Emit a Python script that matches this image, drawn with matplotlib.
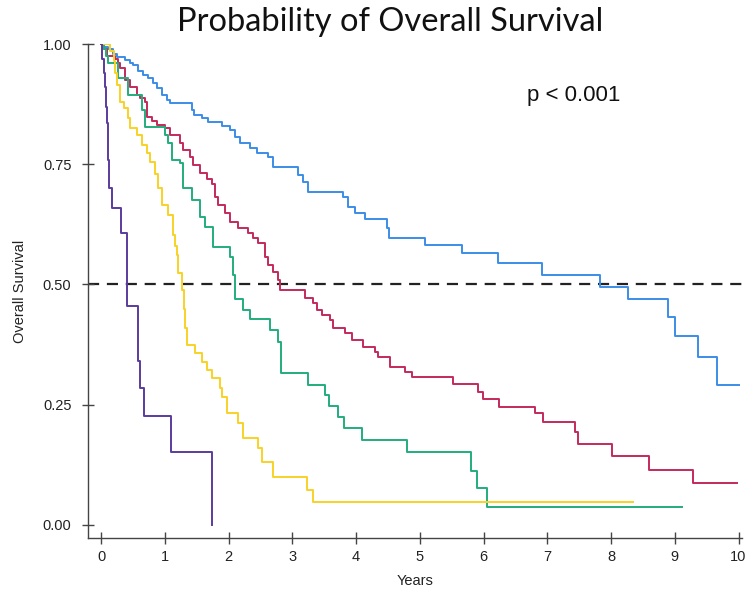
import numpy as np
import matplotlib
matplotlib.use("Agg")
import matplotlib.pyplot as plt

# survival step data: (time in years, survival after drop)
blue_t = [0.05, 0.11, 0.19, 0.25, 0.38, 0.45, 0.50, 0.58, 0.66, 0.74, 0.82, 0.88, 0.96, 1.03, 1.08,
          1.43, 1.46, 1.58, 1.68, 1.90, 2.02, 2.10, 2.18, 2.34, 2.45, 2.62, 2.70, 3.09, 3.17, 3.24,
          3.79, 3.87, 3.98, 4.14, 4.48, 4.51, 5.08, 5.66, 6.22, 6.91, 7.82, 8.26, 8.89, 9.00, 9.36, 9.66]
blue_s = [0.995, 0.99, 0.98, 0.973, 0.967, 0.96, 0.956, 0.945, 0.936, 0.93, 0.919, 0.909, 0.894, 0.884, 0.877,
          0.863, 0.852, 0.846, 0.838, 0.83, 0.821, 0.807, 0.794, 0.784, 0.773, 0.765, 0.744, 0.728, 0.713, 0.692,
          0.682, 0.661, 0.649, 0.636, 0.617, 0.597, 0.582, 0.565, 0.545, 0.52, 0.495, 0.47, 0.432, 0.393, 0.349, 0.291]
blue_end = 10.0

red_t = [0.04, 0.10, 0.22, 0.27, 0.30, 0.38, 0.45, 0.56, 0.61, 0.69, 0.72, 0.80, 0.88, 1.00, 1.08,
         1.24, 1.29, 1.39, 1.44, 1.55, 1.66, 1.74, 1.79, 1.83, 1.94, 2.02, 2.15, 2.30, 2.38, 2.46,
         2.57, 2.62, 2.70, 2.77, 2.81, 3.20, 3.32, 3.39, 3.46, 3.59, 3.64, 3.82, 3.93, 4.11, 4.29,
         4.34, 4.53, 4.76, 4.87, 5.52, 5.91, 5.99, 6.25, 6.80, 6.93, 7.43, 7.48, 8.01, 8.60, 9.28]
red_s = [0.99, 0.975, 0.97, 0.96, 0.95, 0.925, 0.91, 0.894, 0.888, 0.88, 0.848, 0.84, 0.832, 0.825, 0.81,
         0.794, 0.78, 0.765, 0.748, 0.732, 0.72, 0.71, 0.682, 0.665, 0.649, 0.63, 0.617, 0.607, 0.597, 0.586,
         0.557, 0.54, 0.526, 0.509, 0.489, 0.472, 0.461, 0.447, 0.437, 0.426, 0.41, 0.40, 0.385, 0.37, 0.36,
         0.349, 0.328, 0.318, 0.308, 0.293, 0.277, 0.262, 0.245, 0.233, 0.214, 0.193, 0.168, 0.143, 0.114, 0.087]
red_end = 9.98

green_t = [0.05, 0.08, 0.11, 0.27, 0.42, 0.64, 0.69, 1.00, 1.05, 1.11, 1.24, 1.29, 1.43, 1.55, 1.63,
           1.76, 2.02, 2.07, 2.10, 2.23, 2.34, 2.65, 2.77, 2.82, 3.24, 3.51, 3.57, 3.71, 3.81, 4.09,
           4.80, 5.80, 5.89, 6.05]
green_s = [0.99, 0.975, 0.96, 0.93, 0.894, 0.863, 0.827, 0.81, 0.794, 0.759, 0.753, 0.70, 0.676, 0.64, 0.62,
           0.578, 0.557, 0.52, 0.47, 0.447, 0.428, 0.405, 0.38, 0.316, 0.29, 0.27, 0.247, 0.225, 0.202, 0.177,
           0.152, 0.112, 0.077, 0.037]
green_end = 9.12

yellow_t = [0.14, 0.20, 0.22, 0.25, 0.30, 0.36, 0.42, 0.45, 0.56, 0.64, 0.72, 0.77, 0.85, 0.89, 0.96,
            1.05, 1.13, 1.16, 1.19, 1.21, 1.27, 1.30, 1.32, 1.35, 1.47, 1.58, 1.66, 1.74, 1.87, 1.90,
            1.97, 2.15, 2.23, 2.46, 2.52, 2.70, 3.23, 3.32]
yellow_s = [0.985, 0.965, 0.94, 0.915, 0.88, 0.867, 0.846, 0.825, 0.81, 0.79, 0.773, 0.755, 0.73, 0.70, 0.665,
            0.645, 0.603, 0.58, 0.561, 0.524, 0.489, 0.45, 0.41, 0.374, 0.357, 0.339, 0.322, 0.305, 0.285, 0.266,
            0.233, 0.212, 0.181, 0.16, 0.13, 0.10, 0.073, 0.048]
yellow_end = 8.35

purple_t = [0.02, 0.04, 0.06, 0.07, 0.09, 0.11, 0.125, 0.17, 0.31, 0.41, 0.58, 0.61, 0.67, 1.10, 1.74]
purple_s = [0.97, 0.94, 0.91, 0.87, 0.835, 0.76, 0.70, 0.66, 0.607, 0.455, 0.34, 0.285, 0.227, 0.152, 0.0]
purple_end = 1.74

curves = [
    (blue_t, blue_s, blue_end, "#3c8de8"),
    (red_t, red_s, red_end, "#c42a5c"),
    (green_t, green_s, green_end, "#23ad7c"),
    (yellow_t, yellow_s, yellow_end, "#f7d226"),
    (purple_t, purple_s, purple_end, "#5b3b9e"),
]

plt.rcParams['font.family'] = ['Liberation Sans', 'DejaVu Sans']

fig = plt.figure(figsize=(7.53, 5.89), dpi=100)
ax = fig.add_axes([0.117, 0.087, 0.868, 0.838])

ax.axhline(0.5, color="#222222", lw=1.6, ls=(0, (5, 3.5)), zorder=1)

for t, s, end, col in curves:
    x = np.r_[0, t, end]
    y = np.r_[1.0, s, s[-1]]
    ax.step(x, y, where="post", color=col, lw=1.4, zorder=2)

ax.set_xlim(-0.204, 10.05)
ax.set_ylim(-0.027, 1.0)
ax.set_xticks(range(0, 11))
ax.set_yticks([0, 0.25, 0.5, 0.75, 1.0])
ax.set_yticklabels(["0.00", "0.25", "0.50", "0.75", "1.00"])
ax.tick_params(direction="inout", length=8, width=1, color="#444444", labelsize=10.5, labelcolor="#222222")
ax.tick_params(axis="y", pad=8)
ax.tick_params(axis="x", pad=5)
for side in ["top", "right"]:
    ax.spines[side].set_visible(False)
for side in ["left", "bottom"]:
    ax.spines[side].set_color("#444444")
    ax.spines[side].set_linewidth(1)

ax.set_xlabel("Years", fontsize=10.5, color="#222222", labelpad=7)
ax.set_ylabel("Overall Survival", fontsize=10.5, color="#222222", labelpad=11)

ax.text(6.68, 0.894, "p < 0.001", fontsize=16, ha="left", va="center", color="#111111")
fig.text(0.518, 0.962, "Probability of Overall Survival", family=["Lato", "DejaVu Sans"],
         fontsize=23.5, ha="center", va="center", color="#111111")

fig.savefig("out.png", dpi=100)
